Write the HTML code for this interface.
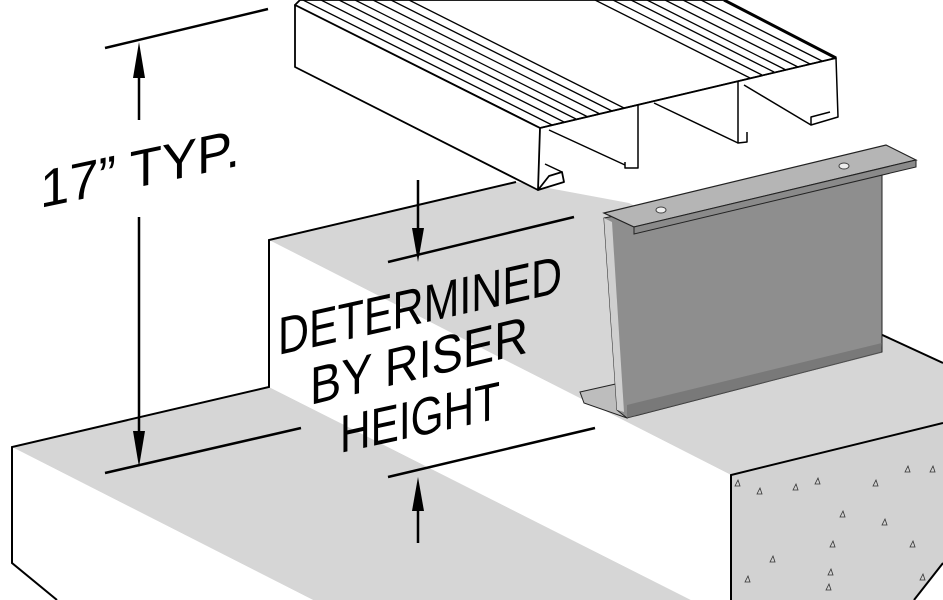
<!DOCTYPE html>
<html><head><meta charset="utf-8"><style>
html,body{margin:0;padding:0;background:#fff;}
svg{display:block;}
text{font-family:"Liberation Sans",sans-serif;fill:#000;}
</style></head><body>
<svg width="943" height="600" viewBox="0 0 943 600" xmlns="http://www.w3.org/2000/svg">
<rect width="943" height="600" fill="#fff"/>
<!-- lower step -->
<polygon points="12,447 269,387 691,600 313,600" fill="#d6d6d6"/>
<polygon points="12,447 313,600 57,600 12,563" fill="#fff"/>
<!-- upper step top -->
<polygon points="269,240 516,182 629,203 878,333 943,363 943,423 731,475" fill="#d6d6d6"/>
<!-- riser face white -->
<polygon points="269,240 731,475 731,600 691,600 269,387" fill="#fff"/>
<!-- end face concrete -->
<polygon points="731,475 943,423 943,563 914,600 731,600" fill="#d2d2d2"/>
<g stroke="#000" stroke-width="2" fill="none">
<polyline points="57,600 12,563 12,447 269,387 269,240 516,182"/>
<line x1="878" y1="333" x2="943" y2="363"/>
<polyline points="731,600 731,475 943,423"/>
<line x1="943" y1="563" x2="914" y2="600"/>
</g>
<g stroke="#333" stroke-width="0.8" fill="none">
<path d="M735,486l3,-6l2,6z M757,494l3,-6l2,6z M793,490l3,-6l2,6z M815,484l3,-6l2,6z M873,486l3,-6l2,6z M905,472l3,-6l2,6z M930,472l3,-6l2,6z M840,517l3,-6l2,6z M830,547l3,-6l2,6z M910,547l3,-6l2,6z M770,562l3,-6l2,6z M828,575l3,-6l2,6z M920,580l3,-6l2,6z M745,582l3,-6l2,6z M826,590l3,-6l2,6z M882,525l3,-6l2,6z"/>
</g>
<!-- bracket -->
<polygon points="580,392 620,383 627,418 584,403" fill="#bdbdbd" stroke="#222" stroke-width="1"/>
<polygon points="604,218 882,165 882,352 627,418 617,410" fill="#8e8e8e" stroke="#222" stroke-width="1"/>
<polygon points="604,218 612,222 624,412 617,410" fill="#cfcfcf"/>
<polygon points="627,418 881,353 882,343 627,405" fill="#6a6a6a" opacity="0.6"/>
<polygon points="604,213 886,145 916,160 634,227" fill="#b5b5b5" stroke="#222" stroke-width="1.2"/>
<polygon points="634,227 916,160 916,167 634,234" fill="#8a8a8a" stroke="#222" stroke-width="1"/>
<ellipse cx="661" cy="210" rx="5" ry="3" fill="#eee" stroke="#444"/>
<ellipse cx="844" cy="166" rx="5" ry="3" fill="#eee" stroke="#444"/>
<!-- decking -->
<g stroke="#000" stroke-width="1.8" fill="#fff" stroke-linejoin="round">
<polygon points="295,5 300,0 724,0 836,58 540,128"/>
<polygon points="295,5 540,128 538,190 295,67"/>
<polygon points="538,190 564,182 562,172 549,176"/>
</g>
<g stroke="#000" stroke-width="1.5" fill="none" stroke-linejoin="round">
<polyline points="540,128 836,58 838,117 811,125 811,117 830,112"/>
<polyline points="638,105 638,168 625,168 625,162"/>
<polyline points="738,82 738,143 747,142 747,132"/>
<line x1="625" y1="165" x2="549" y2="130"/>
<line x1="738" y1="143" x2="654" y2="103"/>
<line x1="811" y1="125" x2="744" y2="85"/>
<line x1="562" y1="172" x2="545" y2="164"/>
</g>
<g stroke="#000" stroke-width="1.3">
<line x1="552" y1="125" x2="303" y2="0"/>
<line x1="564" y1="122" x2="321" y2="0"/>
<line x1="576" y1="119" x2="339" y2="0"/>
<line x1="588" y1="117" x2="355" y2="0"/>
<line x1="600" y1="114" x2="373" y2="0"/>
<line x1="612" y1="111" x2="391" y2="0"/>
<line x1="624" y1="108" x2="409" y2="0"/>
<line x1="750" y1="78" x2="595" y2="0"/>
<line x1="762" y1="75" x2="613" y2="0"/>
<line x1="774" y1="72" x2="631" y2="0"/>
<line x1="786" y1="70" x2="647" y2="0"/>
<line x1="798" y1="67" x2="665" y2="0"/>
<line x1="810" y1="64" x2="683" y2="0"/>
<line x1="822" y1="61" x2="701" y2="0"/>
</g>
<line x1="724" y1="0" x2="836" y2="58" stroke="#000" stroke-width="3"/>
<!-- dimensions -->
<g stroke="#000" stroke-width="2.5">
<line x1="105" y1="48" x2="268" y2="9"/>
<line x1="105" y1="473" x2="301" y2="428"/>
<line x1="139" y1="60" x2="139" y2="120"/>
<line x1="139" y1="217" x2="139" y2="450"/>
<line x1="388" y1="262" x2="574" y2="217"/>
<line x1="388" y1="477" x2="595" y2="428"/>
<line x1="418" y1="180" x2="418" y2="245"/>
<line x1="418" y1="494" x2="418" y2="543"/>
</g>
<g fill="#000">
<polygon points="139,42 133,78 145,78"/>
<polygon points="139,467 133,431 145,431"/>
<polygon points="418,262 412,228 424,228"/>
<polygon points="418,477 412,511 424,511"/>
</g>
<text font-size="53" textLength="200" lengthAdjust="spacingAndGlyphs" transform="translate(40,208) skewY(-12)">17” TYP.</text>
<text font-size="53" textLength="284" lengthAdjust="spacingAndGlyphs" transform="translate(278,355) skewY(-12.5)">DETERMINED</text>
<text font-size="53" textLength="218" lengthAdjust="spacingAndGlyphs" transform="translate(310,405) skewY(-13.5)">BY  RISER</text>
<text font-size="53" textLength="160" lengthAdjust="spacingAndGlyphs" transform="translate(340,453) skewY(-12.3)">HEIGHT</text>
</svg>
</body></html>
